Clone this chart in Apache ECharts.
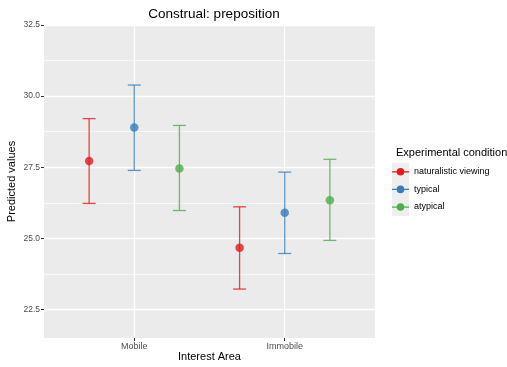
<!DOCTYPE html>
<html>
<head>
<meta charset="utf-8">
<script src="https://cdn.jsdelivr.net/npm/echarts@6/dist/echarts.min.js"></script>
<style>
  html, body { margin: 0; padding: 0; background: #fff; }
  #chart { width: 507px; height: 367px; }
</style>
</head>
<body>
<div id="chart"></div>
<script>
const categories = ['Mobile', 'Immobile'];
const conditions = ['naturalistic viewing', 'typical', 'atypical'];
const colors = ['#E41A1C', '#377EB8', '#4DAF4A'];
const dodge = [-0.3, 0, 0.3];

// per condition, values for Mobile / Immobile
const means = [
  [27.72, 24.67],
  [28.90, 25.90],
  [27.46, 26.34],
];
const lower = [
  [26.23, 23.22],
  [27.39, 24.47],
  [25.98, 24.93],
];
const upper = [
  [29.21, 26.11],
  [30.39, 27.33],
  [28.97, 27.78],
];

const yMajor = [22.5, 25, 27.5, 30, 32.5];
const yMinor = [23.75, 26.25, 28.75, 31.25];

const font = 'Liberation Sans, Arial, sans-serif';
const keyIcon = 'path://M0,8 L5,8 L5,9.3 L0,9.3 Z M12,8 L17,8 L17,9.3 L12,9.3 Z M4.7,8.6 A3.8,3.8 0 1,1 12.3,8.6 A3.8,3.8 0 1,1 4.7,8.6 Z';

const series = [];
conditions.forEach((name, c) => {
  const bars = categories.map((cat, i) => [i + 1 + dodge[c], lower[c][i], upper[c][i]]);
  series.push({
    name: name,
    type: 'custom',
    color: colors[c],
    silent: true,
    data: bars,
    renderItem: (params, api) => {
      const x = api.value(0);
      const lo = api.coord([x, api.value(1)]);
      const hi = api.coord([x, api.value(2)]);
      const half = 6.5;
      const style = { stroke: colors[c], lineWidth: 1.3, opacity: 0.8 };
      return {
        type: 'group',
        children: [
          { type: 'line', shape: { x1: lo[0], y1: lo[1], x2: hi[0], y2: hi[1] }, style: style },
          { type: 'line', shape: { x1: lo[0] - half, y1: lo[1], x2: lo[0] + half, y2: lo[1] }, style: style },
          { type: 'line', shape: { x1: hi[0] - half, y1: hi[1], x2: hi[0] + half, y2: hi[1] }, style: style },
        ],
      };
    },
  });
  series.push({
    name: name,
    type: 'scatter',
    color: colors[c],
    symbolSize: 8.5,
    data: categories.map((cat, i) => [i + 1 + dodge[c], means[c][i]]),
    z: 3,
  });
});

const chart = echarts.init(document.getElementById('chart'));
chart.setOption({
  animation: false,
  backgroundColor: '#fff',
  textStyle: { fontFamily: font },
  title: [
    {
      text: 'Construal: preposition',
      left: 209,
      textAlign: 'center',
      top: 2,
      textStyle: { fontSize: 13.5, fontWeight: 'normal', color: '#000', fontFamily: font },
    },
    {
      text: 'Experimental condition',
      left: 391,
      top: 142,
      textStyle: { fontSize: 11, fontWeight: 'normal', color: '#000', fontFamily: font },
    },
  ],
  graphic: [
    { type: 'rect', left: 392, top: 163, shape: { width: 17, height: 53 }, style: { fill: '#EEEEEE' }, z: -1 },
  ],
  legend: {
    orient: 'vertical',
    left: 392,
    top: 163,
    padding: 0,
    itemWidth: 17,
    itemHeight: 17,
    itemGap: 0,
    icon: keyIcon,
    data: conditions,
    textStyle: { fontSize: 9, color: '#000', fontFamily: font, lineHeight: 17.6 },
  },
  grid: {
    left: 44, right: 132, top: 25, bottom: 29,
    outerBoundsMode: 'none',
    containLabel: false,
    show: true, backgroundColor: '#EBEBEB', borderWidth: 0,
  },
  xAxis: {
    type: 'value',
    min: 0.4,
    max: 2.6,
    name: 'Interest Area',
    nameLocation: 'middle',
    nameGap: 13,
    nameMoveOverlap: false,
    nameTextStyle: { fontSize: 11, color: '#000', fontFamily: font },
    axisLine: { show: false },
    axisTick: { show: true, length: 3, lineStyle: { color: '#333' }, customValues: [1, 2] },
    axisLabel: {
      customValues: [1, 2],
      formatter: (v) => categories[Math.round(v) - 1],
      fontSize: 9, color: '#4D4D4D', margin: 4, fontFamily: font,
    },
    splitLine: { show: true, lineStyle: { color: '#fff', width: 1.3 } },
  },
  yAxis: [
    {
      type: 'value',
      min: 21.5,
      max: 32.5,
      name: 'Predicted values',
      nameLocation: 'middle',
      nameGap: 27,
      nameMoveOverlap: false,
      nameTextStyle: { fontSize: 11, color: '#000', fontFamily: font },
      axisLine: { show: false },
      axisTick: { show: true, length: 3, lineStyle: { color: '#333' }, customValues: yMajor },
      axisLabel: {
        customValues: yMajor,
        formatter: (v) => v.toFixed(1),
        fontSize: 8.5, color: '#4D4D4D', margin: 4, fontFamily: font,
      },
      splitLine: { show: true, lineStyle: { color: '#fff', width: 1.3 } },
    },
    {
      type: 'value',
      min: 21.5,
      max: 32.5,
      position: 'left',
      axisLine: { show: false },
      axisTick: { show: false, customValues: yMinor },
      axisLabel: { show: false, customValues: yMinor },
      splitLine: { show: true, lineStyle: { color: '#fff', width: 0.6 } },
    },
  ],
  series: series,
});
</script>
</body>
</html>
